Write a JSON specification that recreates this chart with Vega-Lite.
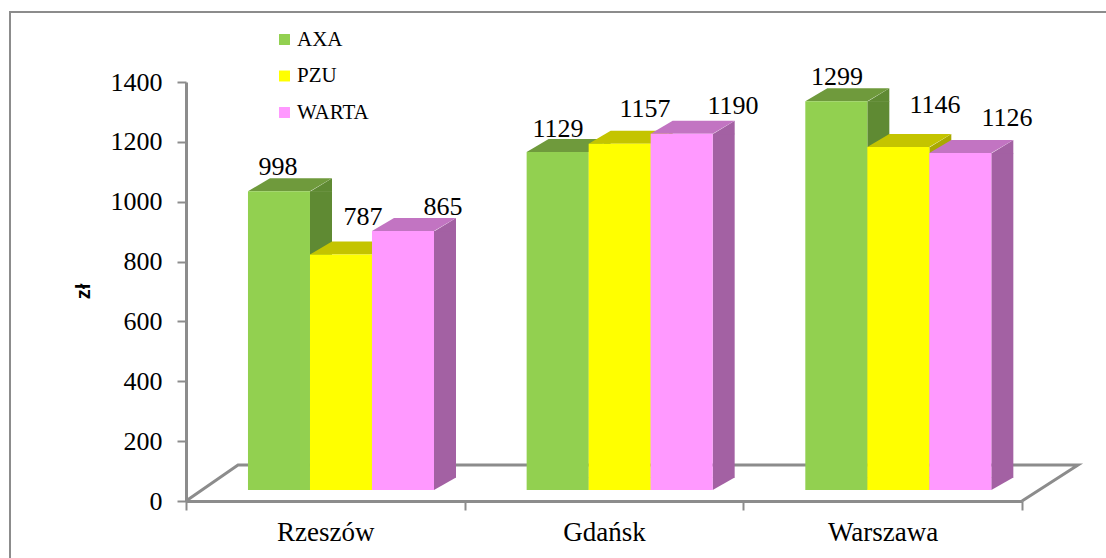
{
"$schema":"https://vega.github.io/schema/vega-lite/v6.json",
"width":836,"height":419,
"autosize":"none",
"padding":{"left":186,"top":82,"right":84,"bottom":57},
"background":"white",
"config":{"view":{"stroke":null},"text":{"font":"Liberation Serif"}},
"data":{"values":[
{"city":"Rzeszów","series":"AXA","value":998},
{"city":"Rzeszów","series":"PZU","value":787},
{"city":"Rzeszów","series":"WARTA","value":865},
{"city":"Gdańsk","series":"AXA","value":1129},
{"city":"Gdańsk","series":"PZU","value":1157},
{"city":"Gdańsk","series":"WARTA","value":1190},
{"city":"Warszawa","series":"AXA","value":1299},
{"city":"Warszawa","series":"PZU","value":1146},
{"city":"Warszawa","series":"WARTA","value":1126}
]},
"encoding":{
"x":{"field":"city","type":"nominal","title":null,"sort":null,
"scale":{"domain":["Rzeszów","Gdańsk","Warszawa"],"paddingInner":0,"paddingOuter":0},
"axis":{"labelAngle":0,"labelFont":"Liberation Serif","labelFontSize":27,"labelColor":"#000","labelPadding":9,"tickBand":"extent","tickColor":"#8c8c8c","tickWidth":2,"tickSize":9,"domainColor":"#8c8c8c","domainWidth":3,"grid":false}},
"y":{"field":"value","type":"quantitative","stack":null,
"scale":{"domain":[0,1400],"nice":false},
"axis":{"values":[0,200,400,600,800,1000,1200,1400],"format":"d","title":"zł","titleFont":"Liberation Sans","titleFontSize":20,"titleFontWeight":"bold","titleColor":"#000","titleX":-93,"titleY":209,"labelFont":"Liberation Serif","labelFontSize":26,"labelColor":"#000","labelPadding":15,"tickColor":"#8c8c8c","tickWidth":2,"tickSize":9,"domainColor":"#8c8c8c","domainWidth":3,"grid":false}}
},
"resolve":{"scale":{"color":"independent"}},
"layer":[
{"data":{"values":[{"city":"Gdańsk","value":0}]},
 "mark":{"type":"point","filled":false,"opacity":1,"size":4,"strokeWidth":2,"stroke":"#8c8c8c","shape":"M-594,57L-594,-489L502,-489"}},
{"data":{"values":[{"city":"Gdańsk","value":0}]},
 "mark":{"type":"point","filled":false,"opacity":1,"size":4,"strokeWidth":3,"stroke":"#8c8c8c","shape":"M-418,0L-366,-36L474,-36L418,0"}},
{"transform":[{"filter":"datum.series=='AXA'"}],"mark":{"type":"rule","strokeWidth":22,"yOffset":-11,"y2Offset":-23.5,"strokeCap":"butt","color":"#5F8A33"},
 "encoding":{"xOffset":{"value":135},"y2":{"datum":0}}},
{"transform":[{"filter":"datum.series=='PZU'"}],"mark":{"type":"rule","strokeWidth":22,"yOffset":-11,"y2Offset":-23.5,"strokeCap":"butt","color":"#A9A900"},
 "encoding":{"xOffset":{"value":197},"y2":{"datum":0}}},
{"transform":[{"filter":"datum.series=='WARTA'"}],"mark":{"type":"rule","strokeWidth":22,"yOffset":-11,"y2Offset":-23.5,"strokeCap":"butt","color":"#A361A3"},
 "encoding":{"xOffset":{"value":259},"y2":{"datum":0}}},
{"mark":{"type":"point","filled":true,"opacity":1,"size":4,"yOffset":-11,"shape":"M31,0.5L53,-13L53,0.5Z"},
 "encoding":{"xOffset":{"field":"series","sort":null,"scale":{"domain":["AXA","PZU","WARTA"],"paddingInner":0,"paddingOuter":0.747,"align":0.669}},
 "color":{"field":"series","legend":null,"scale":{"domain":["AXA","PZU","WARTA"],"range":["#5F8A33","#A9A900","#A361A3"]}}}},
{"mark":{"type":"point","filled":true,"opacity":1,"size":4,"yOffset":-11,"shape":"M31,0L53,-12.5L53,-13L31,-13Z"},
 "encoding":{"xOffset":{"field":"series","sort":null},
 "y":{"datum":0,"type":"quantitative"},
 "color":{"field":"series","legend":null,"scale":{"domain":["AXA","PZU","WARTA"],"range":["#5F8A33","#A9A900","#A361A3"]}}}},
{"mark":{"type":"point","filled":true,"opacity":1,"size":4,"yOffset":-11,"shape":"M-31,0L-9,-13L53,-13L31,0Z"},
 "encoding":{"xOffset":{"field":"series","sort":null},
 "color":{"field":"series","legend":null,"scale":{"domain":["AXA","PZU","WARTA"],"range":["#6F9A3C","#C4C400","#C274C2"]}}}},
{"mark":{"type":"bar","yOffset":-11,"y2Offset":-11},
 "encoding":{"xOffset":{"field":"series","sort":null},"y2":{"datum":0},
 "color":{"field":"series","title":null,"scale":{"domain":["AXA","PZU","WARTA"],"range":["#92D050","#FFFF00","#FF99FF"]},
 "legend":{"orient":"none","legendX":88,"legendY":-53,"symbolType":"square","symbolSize":120,"symbolStrokeWidth":0,"labelFont":"Liberation Serif","labelFontSize":21,"labelColor":"#000","labelOffset":2,"rowPadding":14.5,"padding":0}}}},
{"transform":[{"filter":"datum.value==998"}],"mark":{"type":"text","fontSize":26,"baseline":"middle","dx":-1,"dy":-35.3,"color":"#000"},"encoding":{"xOffset":{"field":"series","sort":null},"text":{"field":"value"}}},
{"transform":[{"filter":"datum.value==787"}],"mark":{"type":"text","fontSize":26,"baseline":"middle","dx":22,"dy":-48.5,"color":"#000"},"encoding":{"xOffset":{"field":"series","sort":null},"text":{"field":"value"}}},
{"transform":[{"filter":"datum.value==865"}],"mark":{"type":"text","fontSize":26,"baseline":"middle","dx":40,"dy":-35.1,"color":"#000"},"encoding":{"xOffset":{"field":"series","sort":null},"text":{"field":"value"}}},
{"transform":[{"filter":"datum.value==1129"}],"mark":{"type":"text","fontSize":26,"baseline":"middle","dx":0.3,"dy":-34.1,"color":"#000"},"encoding":{"xOffset":{"field":"series","sort":null},"text":{"field":"value"}}},
{"transform":[{"filter":"datum.value==1157"}],"mark":{"type":"text","fontSize":26,"baseline":"middle","dx":25.3,"dy":-45.7,"color":"#000"},"encoding":{"xOffset":{"field":"series","sort":null},"text":{"field":"value"}}},
{"transform":[{"filter":"datum.value==1190"}],"mark":{"type":"text","fontSize":26,"baseline":"middle","dx":51.3,"dy":-38.8,"color":"#000"},"encoding":{"xOffset":{"field":"series","sort":null},"text":{"field":"value"}}},
{"transform":[{"filter":"datum.value==1299"}],"mark":{"type":"text","fontSize":26,"baseline":"middle","dx":0.7,"dy":-35.2,"color":"#000"},"encoding":{"xOffset":{"field":"series","sort":null},"text":{"field":"value"}}},
{"transform":[{"filter":"datum.value==1146"}],"mark":{"type":"text","fontSize":26,"baseline":"middle","dx":36.7,"dy":-53,"color":"#000"},"encoding":{"xOffset":{"field":"series","sort":null},"text":{"field":"value"}}},
{"transform":[{"filter":"datum.value==1126"}],"mark":{"type":"text","fontSize":26,"baseline":"middle","dx":46.7,"dy":-46,"color":"#000"},"encoding":{"xOffset":{"field":"series","sort":null},"text":{"field":"value"}}}
]
}
